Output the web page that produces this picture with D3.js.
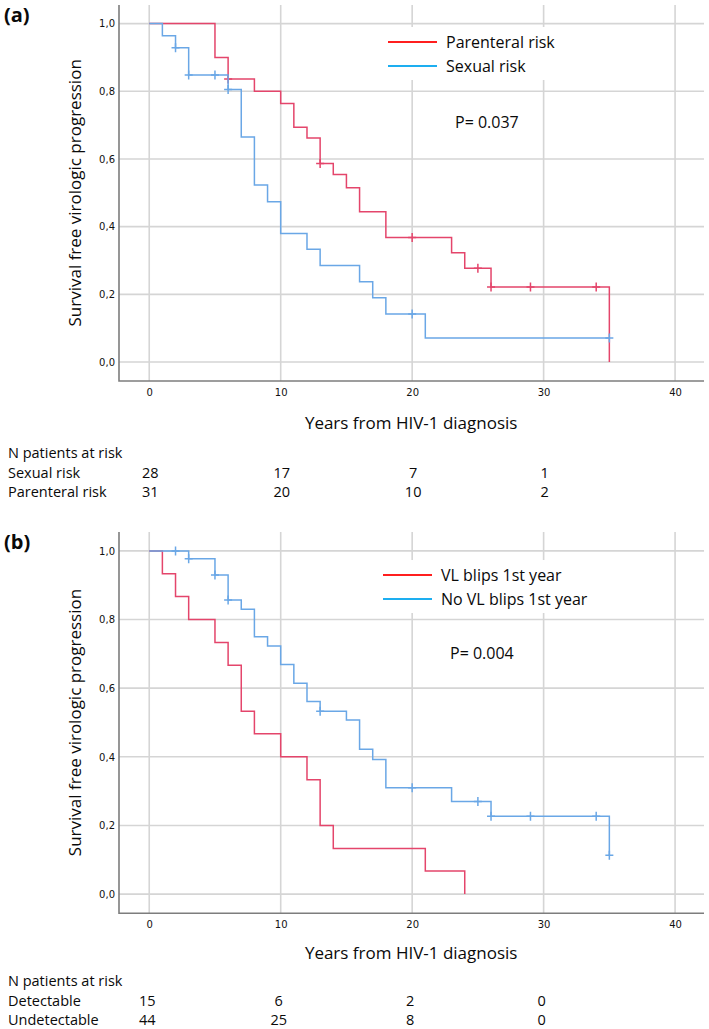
<!DOCTYPE html>
<html>
<head>
<meta charset="utf-8">
<script src="https://cdn.jsdelivr.net/npm/d3@7"></script>
<style>
body { margin: 0; background: #fff; }
svg { display: block; }
text { font-family: "Open Sans", sans-serif; fill: #0a0a0a; }
.tick text { font-family: "DejaVu Sans", sans-serif; font-size: 10px; fill: #111; }
</style>
</head>
<body>
<svg width="709" height="1029"></svg>
<script>
// ---- data ----
var xTicks = [0, 10, 20, 30, 40];
var yTicks = [0, 0.2, 0.4, 0.6, 0.8, 1.0];
var riskTimes = [0, 10, 20, 30];

// (a) by risk group
var aParTimes = [5, 6, 8, 10, 11, 12, 13, 14, 15, 16, 18, 23, 24, 26, 35];
var aParSurv  = [0.900, 0.836, 0.800, 0.764, 0.694, 0.662, 0.587, 0.554, 0.515, 0.444, 0.368, 0.323, 0.277, 0.222, 0];
var aParCens  = [6, 13, 20, 25, 26, 29, 34];
var aSexTimes = [1, 2, 3, 6, 7, 8, 9, 10, 12, 13, 16, 17, 18, 21];
var aSexSurv  = [0.964, 0.929, 0.848, 0.805, 0.665, 0.523, 0.474, 0.380, 0.333, 0.285, 0.237, 0.190, 0.142, 0.071];
var aSexCens  = [2, 3, 5, 6, 20, 35];
var aSexRisk  = [28, 17, 7, 1];
var aParRisk  = [31, 20, 10, 2];

// (b) by VL blips in the first year
var bBlipTimes   = [1, 2, 3, 5, 6, 7, 8, 10, 12, 13, 14, 21, 24];
var bBlipSurv    = [0.933, 0.867, 0.800, 0.733, 0.667, 0.533, 0.467, 0.400, 0.333, 0.200, 0.133, 0.067, 0];
var bBlipCens    = [];
var bNoBlipTimes = [3, 5, 6, 7, 8, 9, 10, 11, 12, 13, 15, 16, 17, 18, 23, 26, 35];
var bNoBlipSurv  = [0.977, 0.930, 0.857, 0.830, 0.750, 0.723, 0.669, 0.614, 0.561, 0.533, 0.507, 0.422, 0.392, 0.310, 0.270, 0.227, 0.113];
var bNoBlipCens  = [2, 3, 5, 6, 13, 20, 25, 26, 29, 34, 35];
var bDetRisk     = [15, 6, 2, 0];
var bUndRisk     = [44, 25, 8, 0];

var redCurve = '#e4456b', blueCurve = '#6aa7e6';
var redKey = '#ff1f1f', blueKey = '#1daef0';

var svg = d3.select('svg');

// survival value of a step curve at time t
function survAt(times, surv, t) {
    var s = 1;
    for (var i = 0; i < times.length; i++) {
        if (times[i] <= t) s = surv[i];
    }
    return s;
}

function drawPanel(cfg) {
    var x = d3.scaleLinear().domain([-2.3, 42.2]).range([119, 704]);
    var y = d3.scaleLinear().domain([-0.056, 1.055]).range([cfg.bottom, cfg.top]);
    var g = svg.append('g');

    // grid
    g.selectAll('.vgrid').data(xTicks).enter().append('line')
        .attr('x1', d => x(d)).attr('x2', d => x(d))
        .attr('y1', cfg.top).attr('y2', cfg.bottom)
        .style('stroke', '#d5d5d5').style('stroke-width', 1.6);
    g.selectAll('.hgrid').data(yTicks).enter().append('line')
        .attr('x1', x.range()[0]).attr('x2', x.range()[1])
        .attr('y1', d => y(d)).attr('y2', d => y(d))
        .style('stroke', '#d5d5d5').style('stroke-width', 1.6);

    // axes (labels only, lines drawn by hand)
    var xa = g.append('g').attr('transform', 'translate(0,' + cfg.bottom + ')')
        .call(d3.axisBottom(x).tickValues(xTicks).tickSize(0).tickPadding(7.5));
    xa.select('.domain').remove();
    var ya = g.append('g').attr('transform', 'translate(' + x.range()[0] + ',0)')
        .call(d3.axisLeft(y).tickValues(yTicks).tickSize(0).tickPadding(4)
            .tickFormat(d => d.toFixed(1).replace('.', ',')));
    ya.select('.domain').remove();
    g.append('path')
        .attr('d', 'M' + x.range()[0] + ',' + cfg.top + 'V' + cfg.bottom + 'H' + x.range()[1])
        .style('fill', 'none').style('stroke', '#7d7d7d').style('stroke-width', 1.6);

    // legend box
    var lg = g.append('g');
    lg.append('rect').attr('x', cfg.legX - 10).attr('y', cfg.legY - 15)
        .attr('width', 210).attr('height', 53).style('fill', '#fff');
    cfg.series.forEach(function(s, i) {
        var ly = cfg.legY + i * 24;
        lg.append('line').attr('x1', cfg.legX).attr('x2', cfg.legX + 49)
            .attr('y1', ly).attr('y2', ly)
            .style('stroke', s.key).style('stroke-width', 2);
        lg.append('text').attr('x', cfg.legX + 58).attr('y', ly + 6)
            .style('font-size', '16px').text(s.name);
    });
    g.append('text').attr('x', cfg.pX).attr('y', cfg.pY)
        .style('font-size', '16px').text(cfg.pText);

    // curves
    var line = d3.line().x(d => x(d[0])).y(d => y(d[1])).curve(d3.curveStepAfter);
    cfg.series.forEach(function(s) {
        var pts = [[0, 1]];
        s.times.forEach(function(t, i) { pts.push([t, s.surv[i]]); });
        var lastT = d3.max(s.cens.concat(s.times));
        if (lastT > s.times[s.times.length - 1]) pts.push([lastT, s.surv[s.surv.length - 1]]);
        g.append('path').datum(pts).attr('d', line)
            .style('fill', 'none').style('stroke', s.color).style('stroke-width', 1.5);
        g.selectAll(null).data(s.cens).enter().append('path')
            .attr('d', function(t) {
                var cx = x(t), cy = y(survAt(s.times, s.surv, t));
                return 'M' + (cx - 4) + ',' + cy + 'H' + (cx + 4) + 'M' + cx + ',' + (cy - 4.5) + 'V' + (cy + 4.5);
            })
            .style('fill', 'none').style('stroke', s.color).style('stroke-width', 1.5);
    });

    // titles
    g.append('text').attr('x', 4).attr('y', cfg.top + 17)
        .style('font-size', '20px').style('font-weight', 'bold').text(cfg.label);
    g.append('text')
        .attr('transform', 'translate(81,' + y(0.5) + ') rotate(-90)')
        .attr('text-anchor', 'middle').style('font-size', '17px')
        .text('Survival free virologic progression');
    g.append('text').attr('x', x(20) - 1).attr('y', cfg.xTitleY)
        .attr('text-anchor', 'middle').style('font-size', '17px')
        .text('Years from HIV-1 diagnosis');

    // numbers at risk
    g.append('text').attr('x', 8).attr('y', cfg.riskY)
        .style('font-size', '14.5px').text('N patients at risk');
    cfg.risk.forEach(function(r, i) {
        var ry = cfg.riskY + 19.5 * (i + 1);
        g.append('text').attr('x', 8).attr('y', ry).style('font-size', '14.5px').text(r.name);
        g.selectAll(null).data(r.values).enter().append('text')
            .attr('x', (d, j) => x(riskTimes[j]) + cfg.riskDx).attr('y', ry)
            .attr('text-anchor', 'middle').style('font-size', '14.5px')
            .text(d => d);
    });
}

drawPanel({
    label: '(a)', top: 5, bottom: 381, xTitleY: 429, riskY: 458, riskDx: 1,
    legX: 388, legY: 42, pX: 455, pY: 128, pText: 'P= 0.037',
    series: [
        {name: 'Parenteral risk', times: aParTimes, surv: aParSurv, cens: aParCens, color: redCurve, key: redKey},
        {name: 'Sexual risk', times: aSexTimes, surv: aSexSurv, cens: aSexCens, color: blueCurve, key: blueKey}
    ],
    risk: [{name: 'Sexual risk', values: aSexRisk}, {name: 'Parenteral risk', values: aParRisk}]
});

drawPanel({
    label: '(b)', top: 532, bottom: 913.3, xTitleY: 959, riskY: 986, riskDx: -2,
    legX: 383, legY: 575, pX: 450, pY: 659, pText: 'P= 0.004',
    series: [
        {name: 'VL blips 1st year', times: bBlipTimes, surv: bBlipSurv, cens: bBlipCens, color: redCurve, key: redKey},
        {name: 'No VL blips 1st year', times: bNoBlipTimes, surv: bNoBlipSurv, cens: bNoBlipCens, color: blueCurve, key: blueKey}
    ],
    risk: [{name: 'Detectable', values: bDetRisk}, {name: 'Undetectable', values: bUndRisk}]
});
</script>
</body>
</html>
